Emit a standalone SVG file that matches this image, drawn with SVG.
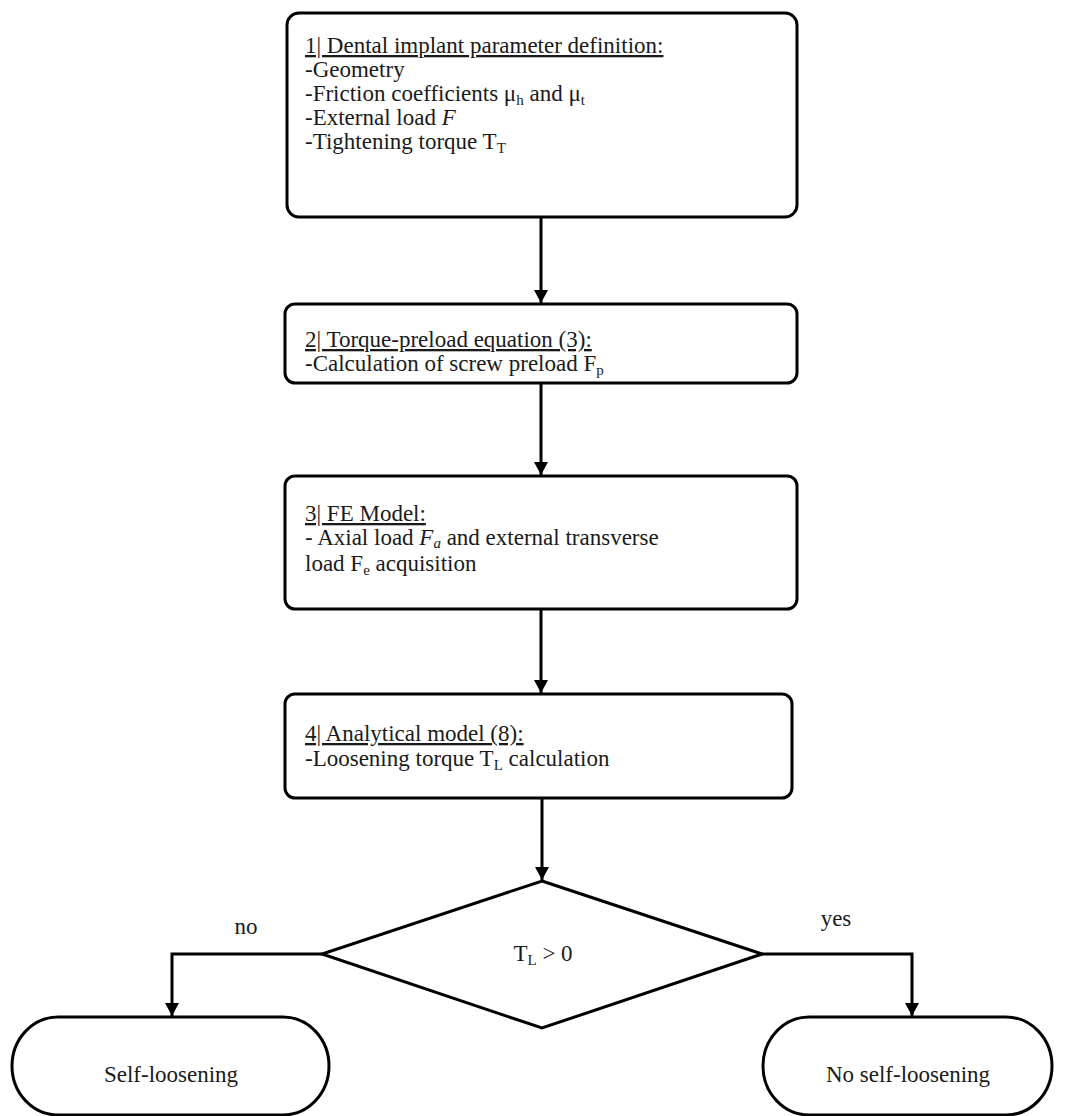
<svg xmlns="http://www.w3.org/2000/svg" width="1069" height="1116" viewBox="0 0 1069 1116">
<defs>
<marker id="ah" markerWidth="13" markerHeight="14" refX="13" refY="7" orient="auto" markerUnits="userSpaceOnUse">
<path d="M0,0 L13,7 L0,14 Z" fill="#000"/>
</marker>
<style>
.box{fill:#fff;stroke:#000;stroke-width:3}
.ln{fill:none;stroke:#000;stroke-width:3;marker-end:url(#ah)}
text{font-family:"Liberation Serif","Times New Roman",serif;font-size:23px;fill:#1a1a1a}
.u{text-decoration:underline}
.sub{font-size:15px}
.c{text-anchor:middle}
</style>
</defs>
<rect width="1069" height="1116" fill="#fff"/>
<g id="connectors">
<path class="ln" d="M541,218 V303"/>
<path class="ln" d="M541,384 V475"/>
<path class="ln" d="M541,609 V693"/>
<path class="ln" d="M542,799 V880"/>
<path class="ln" d="M322,954 H172 V1016"/>
<path class="ln" d="M762,954 H912 V1016"/>
<text x="246" y="934" class="c">no</text>
<text x="836" y="926" class="c">yes</text>
</g>
<g id="n1">
<rect class="box" x="287" y="13" width="510" height="204" rx="12"/>
<text x="305" y="53" class="u">1| Dental implant parameter definition:</text>
<text x="305" y="77">-Geometry</text>
<text x="305" y="101">-Friction coefficients μ<tspan class="sub" dy="4">h</tspan><tspan dy="-4"> and μ</tspan><tspan class="sub" dy="4">t</tspan></text>
<text x="305" y="125">-External load <tspan font-style="italic">F</tspan></text>
<text x="305" y="149">-Tightening torque T<tspan class="sub" dy="4">T</tspan></text>
</g>
<g id="n2">
<rect class="box" x="285" y="304" width="512" height="79" rx="10"/>
<text x="305" y="347" class="u">2| Torque-preload equation (3):</text>
<text x="305" y="371">-Calculation of screw preload F<tspan class="sub" dy="4">p</tspan></text>
</g>
<g id="n3">
<rect class="box" x="285" y="476" width="512" height="133" rx="10"/>
<text x="305" y="521" class="u">3| FE Model:</text>
<text x="305" y="545">- Axial load <tspan font-style="italic">F</tspan><tspan class="sub" font-style="italic" dy="3">a</tspan><tspan dy="-3"> and external transverse</tspan></text>
<text x="305" y="571">load F<tspan class="sub" dy="4">e</tspan><tspan dy="-4"> acquisition</tspan></text>
</g>
<g id="n4">
<rect class="box" x="285" y="694" width="507" height="104" rx="10"/>
<text x="305" y="741" class="u">4| Analytical model (8):</text>
<text x="305" y="766">-Loosening torque T<tspan class="sub" dy="4">L</tspan><tspan dy="-4"> calculation</tspan></text>
</g>
<g id="d1">
<polygon class="box" points="542,881 762,954 542,1028 322,954"/>
<text x="543" y="961" class="c">T<tspan class="sub" dy="4">L</tspan><tspan dy="-4"> &gt; 0</tspan></text>
</g>
<g id="t1">
<rect class="box" x="12" y="1017" width="317" height="98" rx="46" ry="49"/>
<text x="171" y="1082" class="c">Self-loosening</text>
</g>
<g id="t2">
<rect class="box" x="763" y="1017" width="289" height="98" rx="46" ry="49"/>
<text x="908" y="1082" class="c">No self-loosening</text>
</g>
</svg>
